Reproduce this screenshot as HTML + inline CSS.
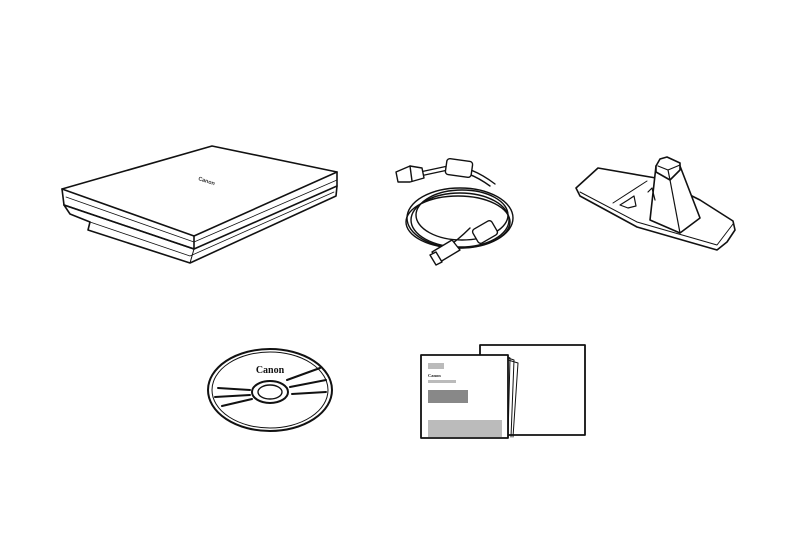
<!DOCTYPE html>
<html><head><style>html,body{margin:0;background:#fff}svg{display:block}</style></head><body>
<svg width="800" height="534" viewBox="0 0 800 534" xmlns="http://www.w3.org/2000/svg" fill="none" stroke="#111" stroke-linejoin="round" stroke-linecap="round">
<!-- Scanner -->
<g stroke-width="1.6">
<path d="M62 189 L212 146 L337 172 L337 186 L194 249 L64 205 Z" fill="#fff"/>
<path d="M62 189 L194 236 L337 172"/>
<path d="M64 205 L194 249 L194 236"/>
<path d="M66 197 L194 242 L337 180" stroke-width="0.8"/>
<path d="M64 205 L70 214 L90 222 L88 230 L190 263 L336 196 L337 186"/>
<path d="M194 249 L190 263" stroke-width="1"/>
<path d="M90 222 L190 256 L334 192" stroke-width="0.8"/>
</g>
<text x="198" y="180" font-family="Liberation Sans, sans-serif" font-size="5.5" font-weight="bold" fill="#333" stroke="none" transform="rotate(18 198 180)">Canon</text>
<!-- Cable -->
<g stroke-width="1.4">
<ellipse cx="460" cy="218" rx="53" ry="30"/>
<ellipse cx="460" cy="220" rx="49" ry="27"/>
<ellipse cx="462" cy="215" rx="46" ry="25"/>
<ellipse cx="458" cy="222" rx="52" ry="26"/>
<path d="M420 172 L448 166 Q470 165 495 184"/>
<path d="M420 176 L448 170 Q468 170 490 186"/>
<rect x="446" y="160" width="26" height="16" rx="3" fill="#fff" transform="rotate(8 459 168)"/>
<path d="M396 172 L410 166 L422 168 L424 178 L410 182 L398 182 Z" fill="#fff"/>
<path d="M410 166 L412 181"/>
<path d="M470 228 Q458 240 446 248"/>
<rect x="474" y="224" width="22" height="16" rx="3" fill="#fff" transform="rotate(-30 485 232)"/>
<path d="M432 252 L452 240 L460 250 L440 262 Z" fill="#fff"/>
<path d="M430 255 L436 252 L442 262 L436 265 Z" fill="#fff"/>
</g>
<!-- Stand -->
<g stroke-width="1.6">
<path d="M576 188 L598 168 L656 178 L700 200 L733 221 L735 230 L727 242 L717 250 L637 227 L580 196 Z" fill="#fff"/>
<path d="M580 192 L637 222 L717 245 L733 224" stroke-width="1"/>
<path d="M613 203 L647 181" stroke-width="1"/>
<path d="M656 166 L650 220 L680 233 L700 218 L680 166 Z" fill="#fff"/>
<path d="M656 166 L660 159 L667 157 L680 163 L680 170 L670 180 L656 172 Z" fill="#fff"/>
<path d="M658 166 L668 170 L680 165 M668 170 L670 180 L680 233" stroke-width="1.2"/>
<path d="M620 205 L628 200 L634 196 L636 206 L628 208 Z M648 192 L652 188 L655 200" stroke-width="1.2"/>
</g>
<!-- CD -->
<g stroke-width="2">
<ellipse cx="270" cy="390" rx="62" ry="41"/>
<ellipse cx="270" cy="390" rx="58" ry="38" stroke-width="1"/>
<ellipse cx="270" cy="392" rx="18" ry="11"/>
<ellipse cx="270" cy="392" rx="12" ry="7" stroke-width="1.4"/>
<path d="M287 380 L320 368 M290 387 L326 380 M292 394 L326 392 M218 388 L250 390 M215 397 L250 395 M222 406 L252 399"/>
</g>
<text x="270" y="373" text-anchor="middle" font-family="Liberation Serif, serif" font-weight="bold" font-size="10" fill="#111" stroke="none">Canon</text>
<!-- Manuals -->
<g stroke-width="1.8">
<rect x="480" y="345" width="105" height="90" fill="#fff"/>
<path d="M508 358 L514 360 L511 437 M508 360 L518 363 L513 437 M506 356 L510 358 L508 438" stroke-width="1"/>
<rect x="421" y="355" width="87" height="83" fill="#fff"/>
</g>
<g stroke="none">
<rect x="428" y="363" width="16" height="6" fill="#bbb"/>
<text x="428" y="377" font-family="Liberation Serif, serif" font-weight="bold" font-size="4.5" fill="#222">Canon</text>
<rect x="428" y="380" width="28" height="3" fill="#bbb"/>
<rect x="428" y="390" width="40" height="13" fill="#888"/>
<rect x="428" y="420" width="74" height="17" fill="#bbb"/>
</g>
</svg>
</body></html>
